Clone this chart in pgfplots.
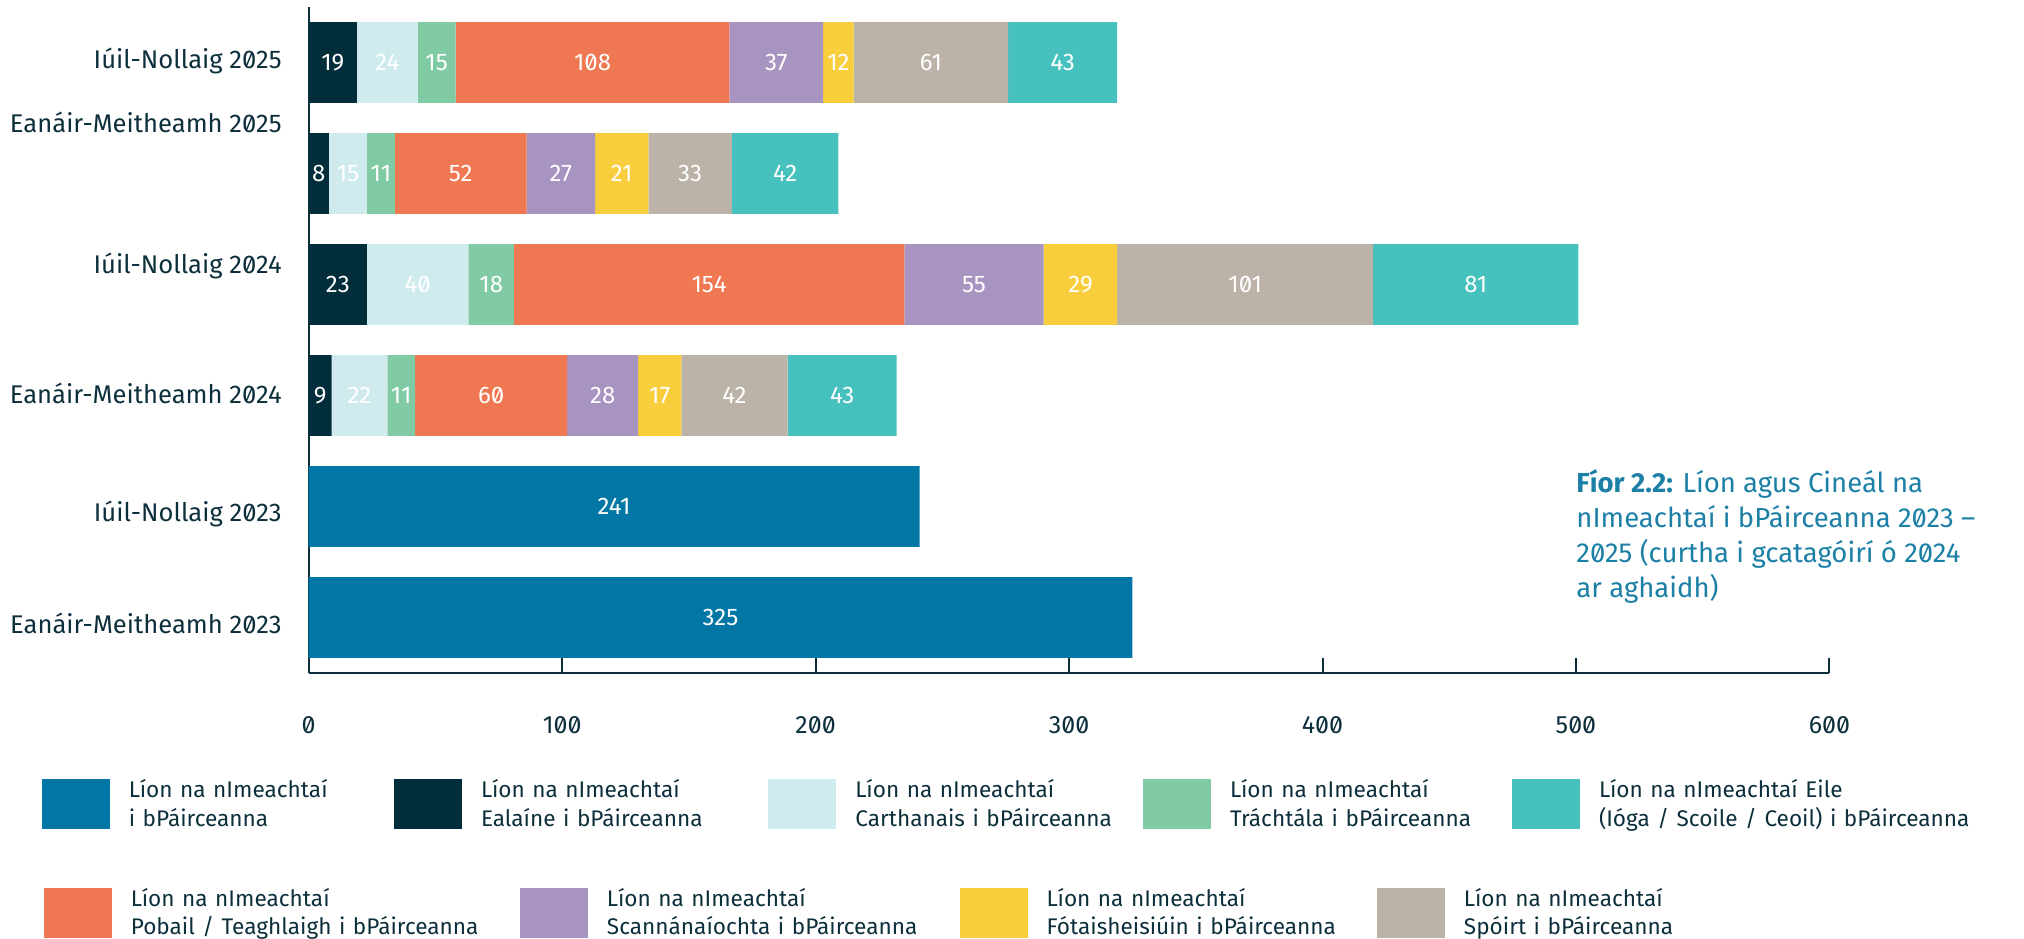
\documentclass[border=0pt]{standalone}
\usepackage{pgfplots}
\usepackage{pgfplotstable}
\pgfplotsset{compat=1.18}
\usepackage{fontspec}
\setmainfont{Fira Sans}[Numbers=SlashedZero]
\definecolor{cTotal}{HTML}{0277A5}
\definecolor{cEal}{HTML}{022E3C}
\definecolor{cCar}{HTML}{CFEBEE}
\definecolor{cTra}{HTML}{80CBA4}
\definecolor{cPob}{HTML}{EF7751}
\definecolor{cSca}{HTML}{A894C0}
\definecolor{cFot}{HTML}{F8CE3D}
\definecolor{cSpo}{HTML}{BCB3A8}
\definecolor{cEil}{HTML}{46C1BD}
\definecolor{cText}{HTML}{0D2F3C}
\definecolor{cTitle}{HTML}{1C7FA6}

\pgfplotstableread{
y total ealaine carthanais trachtala pobail scannan fotai spoirt eile
0 325 0 0 0 0 0 0 0 0
1 241 0 0 0 0 0 0 0 0
2 0 9 22 11 60 28 17 42 43
3 0 23 40 18 154 55 29 101 81
4 0 8 15 11 52 27 21 33 42
5 0 19 24 15 108 37 12 61 43
}\datatable

\pgfplotsset{
  sw/.style={legend image code/.code={\path (0pt,20pt); \fill[##1] (0pt,-19.5pt) rectangle (34pt,5.5pt); \path (43.5pt,0pt);}},
  legrow/.style={
    legend cell align=left,
    legend style={draw=none, fill=none, inner sep=0pt, outer sep=0pt,
      column sep=0pt, row sep=0pt, anchor=north west,
      nodes={inner sep=0pt, align=left, text=cText, font=\fontsize{11.3}{14.25}\selectfont}},
  },
}

\begin{document}
\begin{tikzpicture}
\path[use as bounding box] (0,0) rectangle (1012pt,469pt);
\begin{axis}[
  at={(154.35pt,132.5pt)}, anchor=south west,
  scale only axis, width=760.35pt, height=333pt,
  xbar stacked, bar width=40.35pt,
  xmin=0, xmax=600, ymin=-0.5, ymax=5.5,
  axis x line*=bottom, axis y line*=left,
  axis line style={cText, line width=1pt},
  xtick={0,100,...,600},
  tick align=inside, major tick length=7.5pt,
  xtick style={cText, line width=1pt},
  ytick style={draw=none},
  ytick={-0.144,0.865,1.928,3.099,4.369,4.946},
  yticklabels={Eanáir-Meitheamh 2023, Iúil-Nollaig 2023, Eanáir-Meitheamh 2024, Iúil-Nollaig 2024, Eanáir-Meitheamh 2025, Iúil-Nollaig 2025},
  yticklabel style={anchor=base east, xshift=-10pt, text=cText, font=\fontsize{12.8}{15.4}\selectfont},
  xticklabel style={anchor=base, yshift=-30pt, text=cText, font=\fontsize{12.5}{15}\selectfont},
  /pgf/number format/assume math mode=true,
  point meta=rawx,
  nodes near coords={\pgfmathfloatifflags{\pgfplotspointmeta}{0}{}{\pgfmathprintnumber{\pgfplotspointmeta}}},
  every node near coord/.append style={anchor=center, text=white, font=\fontsize{12}{14}\selectfont},
  title={\textbf{Fíor 2.2:} Líon agus Cineál na\\nImeachtaí i bPáirceanna 2023 –\\2025 (curtha i gcatagóirí ó 2024\\ar aghaidh)},
  title style={at={(0.8334,0.2877)}, anchor=north west, align=left, text=cTitle, inner sep=0pt, font=\fontsize{13.75}{17.5}\selectfont},
  legrow, legend columns=5,
  legend style={at={(-0.1755,-0.1156)}},
]
\addplot[forget plot, fill=cTotal, draw=none] table[x=total, y=y] {\datatable};
\addplot[forget plot, fill=cEal, draw=none] table[x=ealaine, y=y] {\datatable};
\addplot[forget plot, fill=cCar, draw=none] table[x=carthanais, y=y] {\datatable};
\addplot[forget plot, fill=cTra, draw=none] table[x=trachtala, y=y] {\datatable};
\addplot[forget plot, fill=cPob, draw=none] table[x=pobail, y=y] {\datatable};
\addplot[forget plot, fill=cSca, draw=none] table[x=scannan, y=y] {\datatable};
\addplot[forget plot, fill=cFot, draw=none] table[x=fotai, y=y] {\datatable};
\addplot[forget plot, fill=cSpo, draw=none] table[x=spoirt, y=y] {\datatable};
\addplot[forget plot, fill=cEil, draw=none] table[x=eile, y=y] {\datatable};
\addlegendimage{sw, fill=cTotal, draw=none}
\addlegendentry[text width=132.6pt]{Líon na nImeachtaí\\i bPáirceanna}
\addlegendimage{sw, fill=cEal, draw=none}
\addlegendentry[text width=143.7pt]{Líon na nImeachtaí\\Ealaíne i bPáirceanna}
\addlegendimage{sw, fill=cCar, draw=none}
\addlegendentry[text width=143.8pt]{Líon na nImeachtaí\\Carthanais i bPáirceanna}
\addlegendimage{sw, fill=cTra, draw=none}
\addlegendentry[text width=141pt]{Líon na nImeachtaí\\Tráchtála i bPáirceanna}
\addlegendimage{sw, fill=cEil, draw=none}
\addlegendentry[text width=200pt]{Líon na nImeachtaí Eile\\(Ióga / Scoile / Ceoil) i bPáirceanna}
\end{axis}
\begin{axis}[
  at={(154.35pt,132.5pt)}, anchor=south west,
  scale only axis, width=760.35pt, height=333pt,
  hide axis, xmin=0, xmax=1, ymin=0, ymax=1,
  legrow, legend columns=4,
  legend style={at={(-0.1742,-0.2787)}},
]
\addlegendimage{sw, fill=cPob, draw=none}
\addlegendentry[text width=194.6pt]{Líon na nImeachtaí\\Pobail / Teaghlaigh i bPáirceanna}
\addlegendimage{sw, fill=cSca, draw=none}
\addlegendentry[text width=176.3pt]{Líon na nImeachtaí\\Scannánaíochta i bPáirceanna}
\addlegendimage{sw, fill=cFot, draw=none}
\addlegendentry[text width=165.2pt]{Líon na nImeachtaí\\Fótaisheisiúin i bPáirceanna}
\addlegendimage{sw, fill=cSpo, draw=none}
\addlegendentry[text width=150pt]{Líon na nImeachtaí\\Spóirt i bPáirceanna}
\end{axis}
\end{tikzpicture}
\end{document}
